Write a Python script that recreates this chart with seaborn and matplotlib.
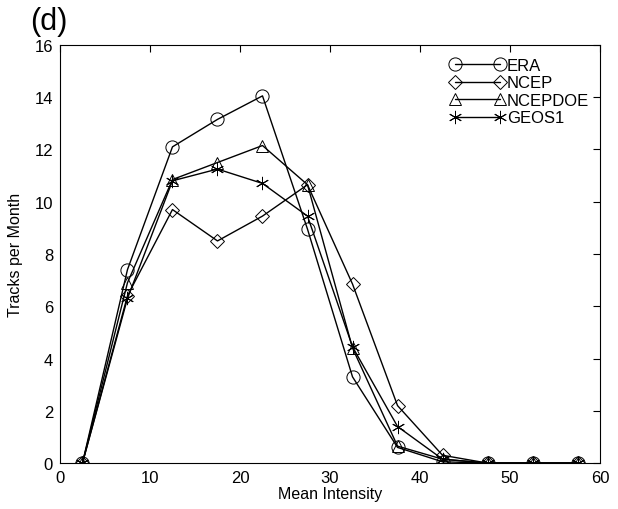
import matplotlib
matplotlib.use("Agg")
import pandas as pd
import matplotlib.pyplot as plt
import seaborn as sns

sns.set_theme(style="white")
plt.rcParams['font.family'] = ['Liberation Sans', 'DejaVu Sans']
plt.rcParams['text.color'] = 'black'
plt.rcParams['axes.labelcolor'] = 'black'

# Bin centres of mean intensity
intensity = [2.5, 7.5, 12.5, 17.5, 22.5, 27.5, 32.5, 37.5, 42.5, 47.5, 52.5, 57.5]

era = [0.0, 7.4, 12.1, 13.15, 14.05, 8.95, 3.3, 0.6, 0.05, 0.0, 0.0, 0.0]
ncep = [0.0, 6.4, 9.7, 8.5, 9.45, 10.65, 6.85, 2.2, 0.3, 0.0, 0.0, 0.0]
ncepdoe = [0.0, 6.9, 10.85, 11.5, 12.15, 10.65, 4.4, 0.65, 0.15, 0.0, 0.0, 0.0]
geos1 = [0.0, 6.3, 10.8, 11.25, 10.7, 9.45, 4.45, 1.4, 0.15, 0.0, 0.0, 0.0]

series = {"ERA": era, "NCEP": ncep, "NCEPDOE": ncepdoe, "GEOS1": geos1}
markers = {"ERA": ("o", 9.5), "NCEP": ("D", 7.5), "NCEPDOE": ("^", 9), "GEOS1": ((6, 2, 0), 9.5)}

fig = plt.figure(figsize=(6.18, 5.10), dpi=100)
ax = fig.add_axes([0.097, 0.090, 0.874, 0.820])

for name, vals in series.items():
    df = pd.DataFrame({"x": intensity, "y": vals})
    m, ms = markers[name]
    sns.lineplot(data=df, x="x", y="y", ax=ax, color="black", lw=1.0,
                 marker=m, markersize=ms, markerfacecolor="none",
                 markeredgecolor="black", markeredgewidth=0.7, label=name)

ax.set_xlim(0, 60)
ax.set_ylim(0, 16)
ax.set_xticks(range(0, 61, 10))
ax.set_yticks(range(0, 17, 2))
ax.tick_params(direction="in", length=5, width=0.8, top=True, right=True,
               labelsize=12, colors="black", pad=5)
for s in ax.spines.values():
    s.set_color("black")
    s.set_linewidth(0.8)
ax.set_xlabel("Mean Intensity", fontsize=11.5, labelpad=1)
ax.set_ylabel("Tracks per Month", fontsize=11.5, labelpad=8)

leg = ax.legend(loc="upper left", bbox_to_anchor=(0.71, 0.985), frameon=False,
                numpoints=2, handlelength=3.3, handletextpad=0.1,
                labelspacing=0.15, fontsize=12, borderaxespad=0.0)

fig.text(0.048, 0.942, "(d)", fontsize=22, color="black")

fig.savefig("out.png", dpi=100)
